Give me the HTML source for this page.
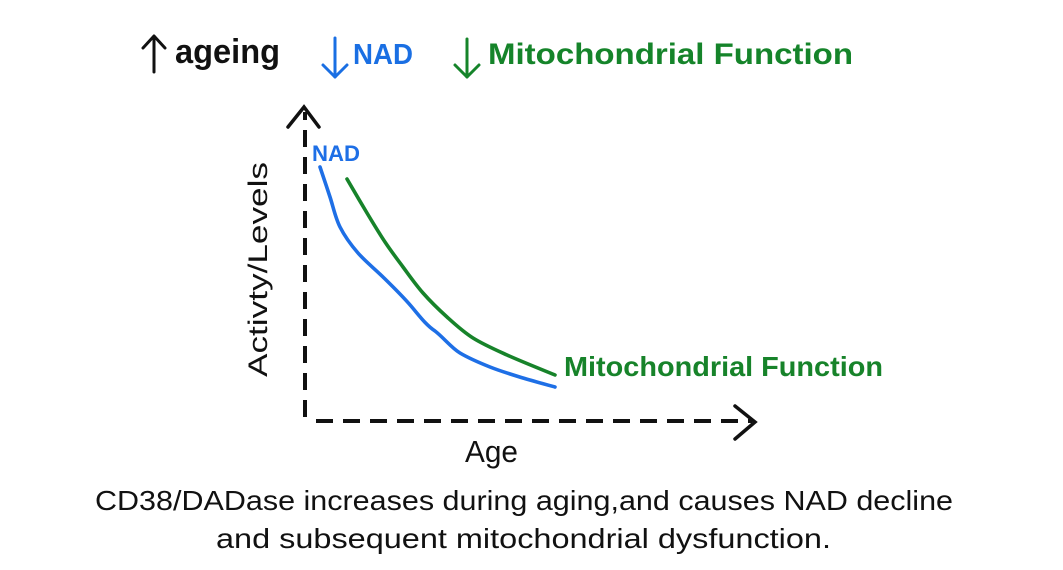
<!DOCTYPE html>
<html>
<head>
<meta charset="utf-8">
<style>
  html,body{margin:0;padding:0;background:#fff;}
  body{width:1063px;height:570px;overflow:hidden;}
  svg{display:block;}
  text{font-family:"Liberation Sans","Noto Sans CJK SC",sans-serif;}
</style>
</head>
<body>
<svg width="1063" height="570" viewBox="0 0 1063 570" xmlns="http://www.w3.org/2000/svg">
  <rect width="1063" height="570" fill="#ffffff"/>

  <!-- Header -->
  <g stroke="#111" stroke-width="3" fill="none" stroke-linecap="round" stroke-linejoin="round">
    <line x1="154" y1="37" x2="154" y2="72"/>
    <polyline points="143,48 154,36 165,48"/>
  </g>
  <text x="175" y="63" font-size="34" font-weight="bold" fill="#111" textLength="105" lengthAdjust="spacingAndGlyphs">ageing</text>

  <g stroke="#1a6fe3" stroke-width="3" fill="none" stroke-linecap="round" stroke-linejoin="round">
    <line x1="335" y1="38" x2="335" y2="77"/>
    <polyline points="323,65 335,77 347,65"/>
  </g>
  <text x="353" y="64" font-size="29" font-weight="bold" fill="#1a6fe3" textLength="60" lengthAdjust="spacingAndGlyphs">NAD</text>

  <g stroke="#15842a" stroke-width="3" fill="none" stroke-linecap="round" stroke-linejoin="round">
    <line x1="467" y1="39" x2="467" y2="77"/>
    <polyline points="455,65 467,77 479,65"/>
  </g>
  <text x="488" y="64" font-size="30" font-weight="bold" fill="#15842a" textLength="365" lengthAdjust="spacingAndGlyphs">Mitochondrial Function</text>

  <!-- Axes -->
  <g stroke="#111" stroke-width="4" fill="none">
    <line x1="305" y1="417" x2="305" y2="112" stroke-dasharray="17 10"/>
    <line x1="316" y1="421" x2="752" y2="421" stroke-dasharray="17 10"/>
  </g>
  <g stroke="#111" stroke-width="3.5" fill="none" stroke-linecap="round" stroke-linejoin="miter">
    <polyline points="288,127 304,107 319,127"/>
    <polyline points="735,406 755,422 735,439"/>
  </g>

  <!-- Curves -->
  <path fill="none" stroke="#1e6fe6" stroke-width="3.6" stroke-linecap="round"
    d="M320,167 C321.7,172 326.7,187 330,197 C333.3,207 335.3,217.7 340,227 C344.7,236.3 350.8,244.7 358,253 C365.2,261.3 373.8,268 383,277 C392.2,286 402.5,296 411,306 C419.5,316 426,325 435,331 C444,338 451,347.5 460,353 C469.5,358.7 479.5,362.8 490,367 C500.5,371.2 512.2,374.7 523,378 C533.8,381.3 549.7,385.5 555,387"/>
  <path fill="none" stroke="#17832a" stroke-width="3.6" stroke-linecap="round"
    d="M347,179 C350.3,184.7 360.7,202.5 367,213 C373.3,223.5 379,233 385,242 C391,251 396.7,258.5 403,267 C409.3,275.5 415.7,284.7 423,293 C430.3,301.3 438.7,309.5 447,317 C455.3,324.5 463,331.7 473,338 C483,344.3 493.3,348.8 507,355 C520.7,361.2 547,371.7 555,375"/>

  <!-- Curve labels -->
  <text x="312" y="161" font-size="22" font-weight="bold" fill="#1e6fe6" textLength="48" lengthAdjust="spacingAndGlyphs">NAD</text>
  <text x="564" y="376" font-size="28" font-weight="bold" fill="#17832a" textLength="319" lengthAdjust="spacingAndGlyphs">Mitochondrial Function</text>

  <!-- Axis labels -->
  <text x="0" y="0" font-size="27" fill="#111" transform="translate(267,377) rotate(-90)" textLength="215" lengthAdjust="spacingAndGlyphs">Activty/Levels</text>
  <text x="465" y="462" font-size="31" fill="#111" textLength="53" lengthAdjust="spacingAndGlyphs">Age</text>

  <!-- Caption -->
  <text x="95" y="510" font-size="28" fill="#111" textLength="858" lengthAdjust="spacingAndGlyphs">CD38/DADase increases during aging,and causes NAD decline</text>
  <text x="216" y="548" font-size="28" fill="#111" textLength="615" lengthAdjust="spacingAndGlyphs">and subsequent mitochondrial dysfunction.</text>
</svg>
</body>
</html>
